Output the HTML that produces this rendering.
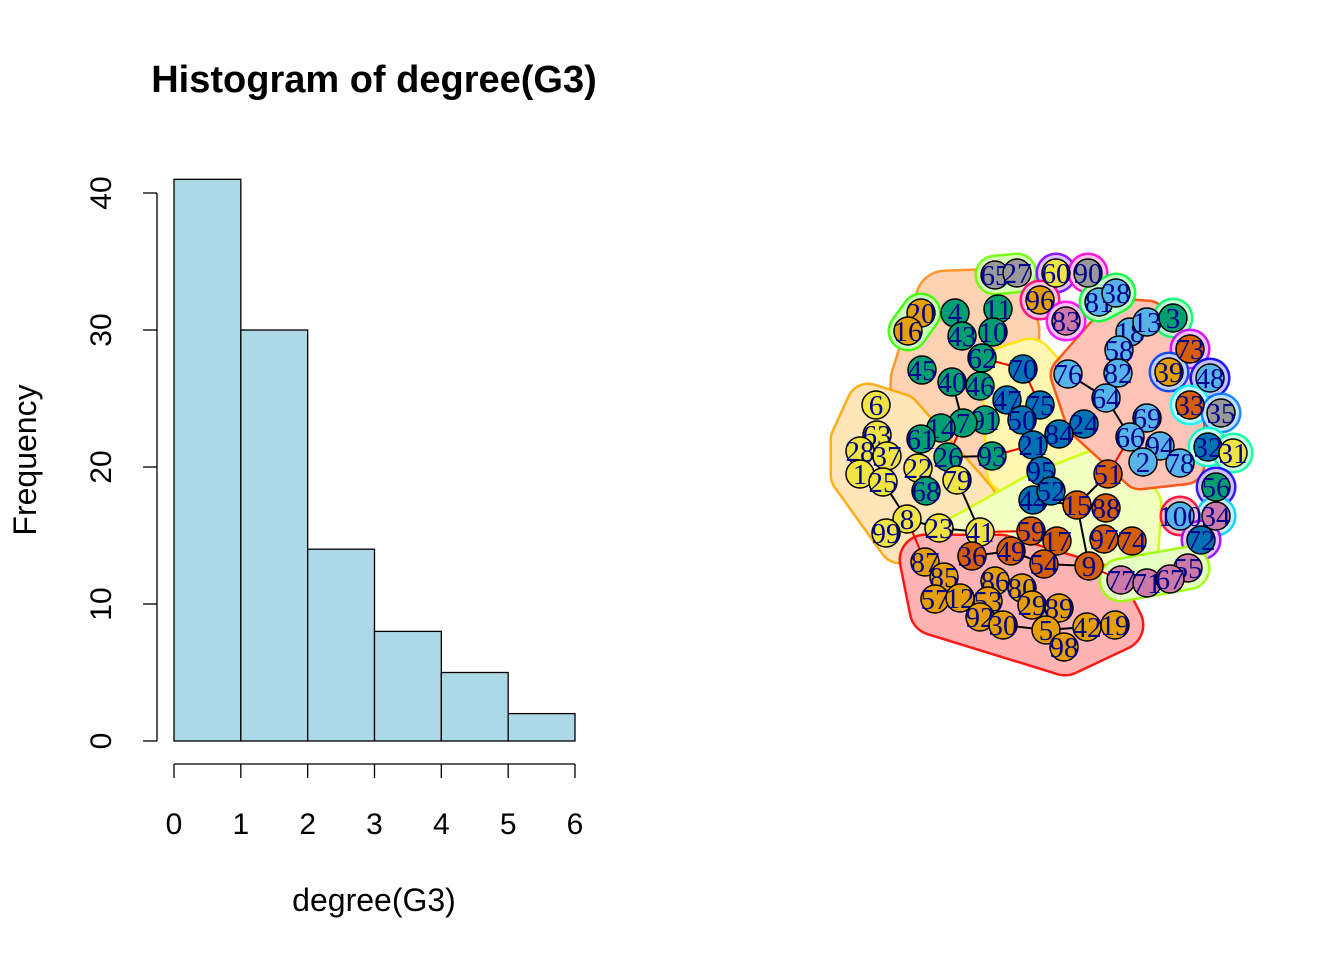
<!DOCTYPE html>
<html><head><meta charset="utf-8"><style>
body{margin:0;background:#fff}
svg text{font-family:"Liberation Sans",sans-serif}
.nl{font-family:"Liberation Serif",serif;font-size:29px;fill:#00008B;text-anchor:middle}
</style></head><body>
<svg id="s" width="1344" height="960" xmlns="http://www.w3.org/2000/svg">
<text x="374" y="92" font-size="38" font-weight="bold" text-anchor="middle">Histogram of degree(G3)</text>
<text x="374" y="911" font-size="32" text-anchor="middle">degree(G3)</text>
<text transform="translate(36,460) rotate(-90)" font-size="32" text-anchor="middle">Frequency</text>
<g id="hist"></g>
<g id="net"></g>
</svg>
<script>
const binEdges=[0,1,2,3,4,5,6];
const counts=[41,30,14,8,5,2];
const yTicks=[0,10,20,30,40];
const NS="http://www.w3.org/2000/svg";
function mk(p,t,a){const e=document.createElementNS(NS,t);for(const k in a)e.setAttribute(k,a[k]);p.appendChild(e);return e;}
const X=v=>174+v*(575-174)/6, Y=v=>741-v*(741-193)/40;
const h=document.getElementById('hist');
counts.forEach((c,i)=>{const r=mk(h,'rect',{x:X(binEdges[i]),y:Y(c),width:X(binEdges[i+1])-X(binEdges[i]),height:Y(0)-Y(c),fill:'#ADD8E6',stroke:'#000','stroke-width':1.3});

});
mk(h,'line',{x1:157,x2:157,y1:Y(0),y2:Y(40),stroke:'#000','stroke-width':1.3});
yTicks.forEach(v=>{mk(h,'line',{x1:143,x2:157,y1:Y(v),y2:Y(v),stroke:'#000','stroke-width':1.3});
const t=mk(h,'text',{transform:`translate(111,${Y(v)}) rotate(-90)`,'font-size':30,'text-anchor':'middle'});t.textContent=v;

});
mk(h,'line',{x1:X(0),x2:X(6),y1:764,y2:764,stroke:'#000','stroke-width':1.3});
binEdges.forEach(v=>{mk(h,'line',{x1:X(v),x2:X(v),y1:764,y2:778,stroke:'#000','stroke-width':1.3});
const t=mk(h,'text',{x:X(v),y:834,'font-size':30,'text-anchor':'middle'});t.textContent=v;

});

const C={g:'#009E73',b:'#0072B2',o:'#E69F00',y:'#F0E442',v:'#D55E00',s:'#56B4E9',p:'#CC79A7',x:'#999999'};
const nodes=[[65,995,275,'x'],[27,1017,273,'x'],[60,1056,273,'y'],[90,1088,273,'x'],[96,1040,300,'o'],[81,1099,302,'s'],[38,1116,293,'s'],[83,1066,321,'p'],[20,921,313,'o'],[16,908,331,'o'],[4,955,313,'g'],[11,998,309,'g'],[43,962,336,'g'],[10,993,332,'g'],[62,982,358,'g'],[45,922,370,'g'],[40,952,382,'g'],[46,980,386,'g'],[70,1023,369,'b'],[76,1068,374,'s'],[18,1130,332,'s'],[13,1147,322,'s'],[3,1173,318,'g'],[58,1119,350,'s'],[82,1118,373,'s'],[73,1190,349,'v'],[39,1169,372,'o'],[48,1210,378,'s'],[64,1106,398,'s'],[33,1190,405,'v'],[35,1221,413,'x'],[69,1147,418,'s'],[66,1130,437,'s'],[94,1160,446,'s'],[2,1143,462,'s'],[78,1180,463,'s'],[32,1208,447,'b'],[31,1233,453,'y'],[47,1007,400,'b'],[75,1040,405,'b'],[50,1022,420,'b'],[24,1084,424,'b'],[84,1059,434,'b'],[21,1033,445,'b'],[91,985,420,'g'],[7,963,423,'g'],[14,941,428,'g'],[61,921,439,'g'],[26,948,457,'g'],[93,992,456,'g'],[6,876,405,'y'],[63,877,435,'y'],[28,860,451,'y'],[37,887,456,'y'],[22,918,468,'y'],[1,860,474,'y'],[25,883,482,'y'],[79,957,480,'y'],[68,926,491,'g'],[95,1041,471,'b'],[51,1108,474,'v'],[44,1033,500,'b'],[52,1051,491,'b'],[15,1077,505,'v'],[88,1106,508,'v'],[56,1216,487,'g'],[100,1180,516,'s'],[34,1216,516,'p'],[8,907,519,'y'],[99,886,533,'y'],[23,939,528,'y'],[41,980,532,'y'],[59,1031,531,'v'],[17,1057,541,'v'],[97,1104,539,'v'],[74,1132,541,'v'],[72,1201,540,'b'],[87,925,562,'o'],[36,972,556,'v'],[49,1011,551,'v'],[54,1044,564,'v'],[9,1089,566,'v'],[55,1188,568,'p'],[85,944,577,'o'],[86,995,581,'o'],[80,1022,588,'o'],[77,1121,580,'p'],[71,1147,583,'p'],[67,1170,579,'p'],[57,935,599,'o'],[12,960,598,'o'],[53,988,601,'o'],[29,1032,605,'o'],[89,1059,608,'o'],[92,980,617,'o'],[30,1003,625,'o'],[5,1046,630,'o'],[42,1087,627,'o'],[19,1115,625,'o'],[98,1064,647,'o']];
const P={};nodes.forEach(n=>P[n[0]]=[n[1],n[2]]);
const hulls=[
[[[920,380],[945,300],[1000,298],[1010,330],[1008,440],[975,490],[930,495],[918,460]],28,'#FF8C1A','#FFD2B3'],
[[[852,440],[868,405],[900,415],[975,500],[980,535],[900,542],[852,475]],20,'#FFA500','#FFE5B8'],
[[[1005,370],[1030,362],[1088,425],[1055,495],[1010,470]],22,'#FFE600','#FFF7B0'],
[[[950,545],[1040,495],[1105,470],[1138,505],[1135,552],[1070,575],[960,565]],22,'#CCFF00','#F2FFC0'],
[[[925,560],[1000,560],[1100,590],[1118,625],[1065,650],[935,610]],24,'#FF0000','#FFB3B3'],
[[[1070,375],[1120,318],[1148,320],[1185,420],[1185,465],[1140,470],[1085,420]],18,'#FF4500','#FFC4B5'],
[[[908,331],[921,313]],18,'#33FF00','#CCFFBB'],[[[995,275],[1017,273]],18,'#66FF00','#D9FFBB'],
[[[1056,273]],18,'#8000FF','#DCC2FF'],[[[1088,273]],18,'#FF00CC','#FFC2F0'],[[[1040,300]],18,'#FF0080','#FFC2DD'],
[[[1066,321]],18,'#FF00FF','#FFC2FF'],[[[1099,302],[1116,293]],18,'#00FF33','#C2FFCC'],[[[1173,318]],18,'#00FF66','#C2FFD6'],
[[[1190,349]],18,'#CC00FF','#F0C2FF'],[[[1169,372]],18,'#0040FF','#C2D0FF'],[[[1210,378]],18,'#0000FF','#C2C2FF'],
[[[1190,405]],18,'#00FFFF','#C2FFFF'],[[[1221,413]],18,'#0080FF','#C2E0FF'],[[[1208,447]],18,'#00FFCC','#C2FFF0'],
[[[1233,453]],18,'#00FF99','#C2FFE6'],[[[1216,487]],18,'#2200FF','#C9C2FF'],[[[1216,516]],18,'#00CCFF','#C2F0FF'],
[[[1180,516]],18,'#FF0033','#FFC2CC'],[[[1201,540]],18,'#9900FF','#E6C2FF'],
[[[1121,580],[1188,568]],20,'#99FF00','#E6FFC2']];
const net=document.getElementById('net');
hulls.forEach((hh,i)=>{const g=mk(net,'g',{});


const tag=hh[0].length>2?'polygon':'polyline';
if(hh[0].length==1)hh[0].push([hh[0][0][0]+0.1,hh[0][0][1]]);
const pts2=hh[0].map(p=>p.join(',')).join(' ');
mk(g,tag,{points:pts2,fill:tag=='polygon'?hh[3]:'none',stroke:hh[2],'stroke-width':2*hh[1]+5,'stroke-linejoin':'round','stroke-linecap':'round','opacity':0.9});
mk(g,tag,{points:pts2,fill:tag=='polygon'?hh[3]:'none',stroke:hh[3],'stroke-width':2*hh[1],'stroke-linejoin':'round','stroke-linecap':'round'});});
const edges=[[62,70,'r'],[70,75,'r'],[62,46,'k'],[40,7,'k'],[7,26,'r'],[26,93,'k'],[93,21,'r'],[76,64,'k'],[64,66,'k'],[66,51,'r'],[51,15,'k'],[15,44,'k'],[15,9,'k'],[8,23,'k'],[23,41,'k'],[41,59,'r'],[79,41,'k'],[25,8,'k'],[8,87,'r'],[36,49,'k'],[49,54,'k'],[54,9,'k'],[30,5,'k'],[5,42,'k'],[9,77,'r'],[47,91,'k'],[84,21,'k'],[95,52,'k']];
edges.forEach(e=>{const a=P[e[0]],b=P[e[1]];const l=mk(net,'line',{x1:a[0],y1:a[1],x2:b[0],y2:b[1],stroke:e[2]=='r'?'#FF0000':'#000','stroke-width':2});

});
nodes.forEach(n=>{const g=mk(net,'g',{});


mk(g,'circle',{cx:n[1],cy:n[2],r:14,fill:C[n[3]],stroke:'#000','stroke-width':1.5});
const t=mk(g,'text',{x:n[1],y:n[2]+10,class:'nl'});t.textContent=n[0];});
</script>
</body></html>
